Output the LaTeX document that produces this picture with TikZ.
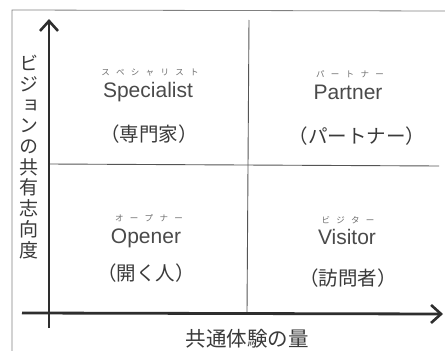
\documentclass[tikz,border=0pt]{standalone}
\usepackage{fontspec}
\setmainfont{Liberation Sans}
\newfontfamily\jp{Noto Sans CJK JP}
\newfontfamily\jpv[RawFeature=+vert]{Noto Sans CJK JP}
\usetikzlibrary{arrows.meta}
\definecolor{axiscol}{HTML}{2E2E2E}
\definecolor{divcol}{HTML}{555555}
\definecolor{framecol}{HTML}{808080}
\definecolor{engcol}{HTML}{4A4A4A}
\definecolor{jpcol}{HTML}{3A3A3A}
\definecolor{rubycol}{HTML}{6E6E6E}
\newcommand\rbs{\hspace{6.3pt}}
\tikzset{
  axisline/.style={draw=axiscol, line width=2.8pt,
    -{Straight Barb[length=10pt,width=18pt,line width=2.6pt]}},
  divider/.style={draw=divcol, line width=0.9pt},
  framel/.style={draw=framecol, line width=0.8pt},
  eng/.style={inner sep=0pt, anchor=base, text=engcol, font=\fontsize{21}{21}\selectfont},
  ruby/.style={inner sep=0pt, text=rubycol, font=\jp\fontsize{8.5}{8.5}\selectfont},
  kanji/.style={inner sep=0pt, text=jpcol, font=\jp\fontsize{19.5}{19.5}\selectfont},
  axlabel/.style={inner sep=0pt, text=jpcol, font=\jp\fontsize{20.5}{20.5}\selectfont},
  axlabelv/.style={inner sep=0pt, text=jpcol, align=center, font=\jpv\fontsize{19}{20.7}\selectfont},
}
\begin{document}
\begin{tikzpicture}[x=1pt,y=-1pt]
\useasboundingbox[fill=white] (0,0) rectangle (445,351);
% frame
\coordinate (fb) at (12,351);
\coordinate (fc) at (12,10);
\coordinate (fr) at (445,11);
\draw[framel] (fb) -- (fc) -- (fr);
% dividers
\coordinate (vt) at (249,20);
\coordinate (vb) at (247,313);
\coordinate (hl) at (49,164);
\coordinate (hr) at (439,166);
\draw[divider] (vt) -- (vb);
\draw[divider] (hl) -- (hr);
% axes
\coordinate (yb) at (49,328);
\coordinate (yt) at (49,19);
\coordinate (xl) at (22,313);
\coordinate (xr) at (443,314);
\draw[axisline] (yb) -- (yt);
\draw[axisline] (xl) -- (xr);
% axis labels
\node[axlabelv] (ylab) at (29,157) {ビ\\ジ\\ョ\\ン\\の\\共\\有\\志\\向\\度};
\node[axlabel] (xlab) at (247,339) {共通体験の量};
% quadrant texts
\node[ruby] (r1) at (150,73) {ス\rbs ペ\rbs シ\rbs ャ\rbs リ\rbs ス\rbs ト};
\node[eng] (e1) at (148,97) {Specialist};
\node[kanji] (k1) at (149,134) {（専門家）};
\node[ruby] (r2) at (350,74) {パ\rbs ー\rbs ト\rbs ナ\rbs ー};
\node[eng] (e2) at (348,99) {Partner};
\node[kanji] (k2) at (357,136) {（パートナー）};
\node[ruby] (r3) at (149,218) {オ\rbs ー\rbs プ\rbs ナ\rbs ー};
\node[eng] (e3) at (146,243) {Opener};
\node[kanji] (k3) at (146,273) {（開く人）};
\node[ruby] (r4) at (348,220) {ビ\rbs ジ\rbs タ\rbs ー};
\node[eng] (e4) at (347,244) {Visitor};
\node[kanji] (k4) at (348,278) {（訪問者）};
\end{tikzpicture}
\end{document}
